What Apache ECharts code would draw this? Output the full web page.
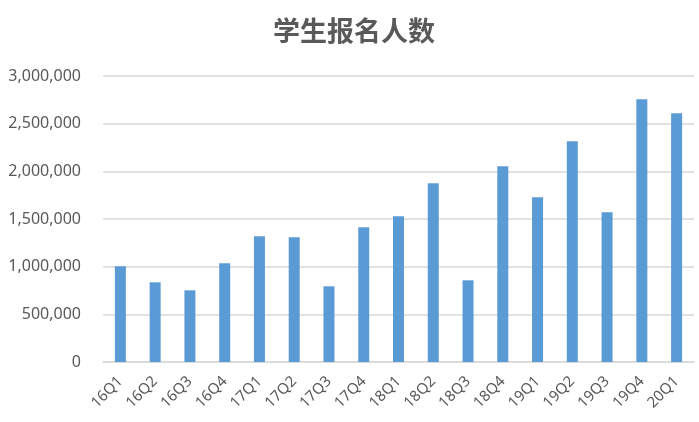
<!DOCTYPE html>
<html><head><meta charset="utf-8">
<script src="https://cdn.jsdelivr.net/npm/echarts@6/dist/echarts.min.js"></script>
<style>html,body{margin:0;padding:0;background:#fff}#c{width:699px;height:422px}</style>
</head><body><div id="c"></div>
<script>
const categories = ['16Q1','16Q2','16Q3','16Q4','17Q1','17Q2','17Q3','17Q4','18Q1','18Q2','18Q3','18Q4','19Q1','19Q2','19Q3','19Q4','20Q1'];
const values = [1004000, 836000, 752000, 1035000, 1318000, 1308000, 794000, 1413000, 1528000, 1874000, 857000, 2053000, 1728000, 2315000, 1570000, 2756000, 2609000];
const titleText = '学生报名人数';

const chart = echarts.init(document.getElementById('c'));
chart.setOption({
  animation: false,
  title: {
    text: titleText, left: 268, top: 12,
    textStyle: {fontFamily: 'Noto Sans CJK SC', fontSize: 27, fontWeight: 'bold', color: '#595959'}
  },
  grid: {left: 103, right: 5, top: 76, bottom: 60},
  xAxis: {
    type: 'category', data: categories,
    axisLine: {lineStyle: {color: '#d9d9d9', width: 1.5}},
    axisTick: {show: false},
    axisLabel: {rotate: 45, margin: 17, color: '#595959', fontSize: 15, fontFamily: 'Noto Sans', interval: 0}
  },
  yAxis: {
    type: 'value', min: 0, max: 3000000, interval: 500000,
    axisLine: {show: false}, axisTick: {show: false},
    splitLine: {lineStyle: {color: '#d9d9d9', width: 1.5}},
    axisLabel: {margin: 22, color: '#595959', fontSize: 16, fontFamily: 'Noto Sans',
      formatter: v => v.toLocaleString('en-US')}
  },
  series: [{type: 'bar', data: values, barWidth: 11, itemStyle: {color: '#5b9bd5'}}]
});
</script></body></html>
